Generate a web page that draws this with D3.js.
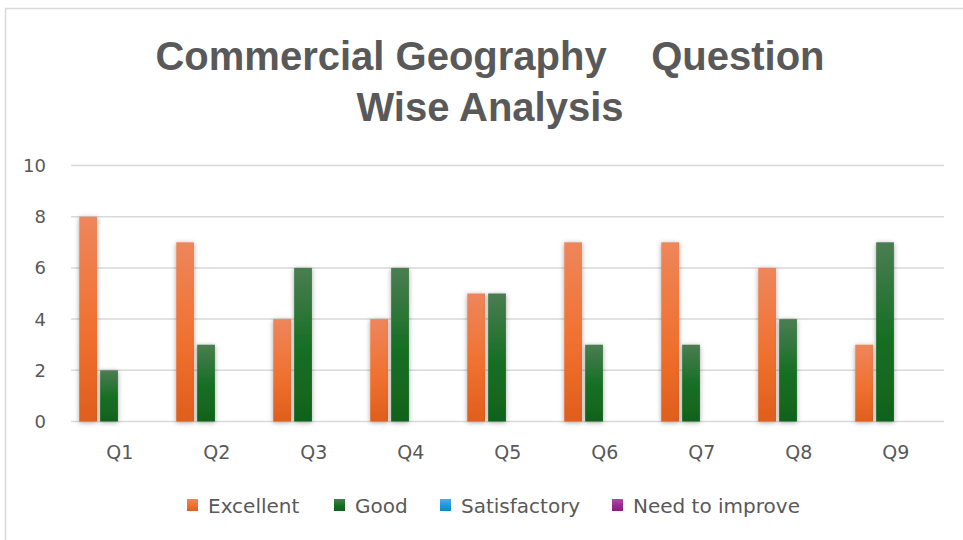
<!DOCTYPE html>
<html>
<head>
<meta charset="utf-8">
<script src="https://cdn.jsdelivr.net/npm/d3@7"></script>
<style>
  body { margin: 0; background: #fff; }
  text { font-family: "DejaVu Sans", sans-serif; fill: #595959; }
</style>
</head>
<body>
<script>
var categories = ["Q1", "Q2", "Q3", "Q4", "Q5", "Q6", "Q7", "Q8", "Q9"];
var seriesNames = ["Excellent", "Good", "Satisfactory", "Need to improve"];
var excellent = [8, 7, 4, 4, 5, 7, 7, 6, 3];
var good = [2, 3, 6, 6, 5, 3, 3, 4, 7];
var satisfactory = [0, 0, 0, 0, 0, 0, 0, 0, 0];
var needToImprove = [0, 0, 0, 0, 0, 0, 0, 0, 0];
var yTicks = [0, 2, 4, 6, 8, 10];

var values = [excellent, good, satisfactory, needToImprove];
// gradient stops per series: top, middle, bottom
var colors = [
  ["#ee865c", "#f07130", "#e05e1c"],
  ["#4b7d52", "#146e22", "#11621d"],
  ["#4aaee6", "#1a9ad8", "#0a8bc8"],
  ["#b04aa8", "#9a2a90", "#8a1e82"]
];

var W = 963, H = 540;
var svg = d3.select("body").append("svg").attr("width", W).attr("height", H);
var defs = svg.append("defs");

colors.forEach(function (c, i) {
  var g = defs.append("linearGradient").attr("id", "grad" + i)
    .attr("x1", 0).attr("y1", 0).attr("x2", 0).attr("y2", 1);
  g.append("stop").attr("offset", "0%").attr("stop-color", c[0]);
  g.append("stop").attr("offset", "55%").attr("stop-color", c[1]);
  g.append("stop").attr("offset", "100%").attr("stop-color", c[2]);
});

var shadow = defs.append("filter").attr("id", "shadow")
  .attr("x", "-50%").attr("y", "-10%").attr("width", "200%").attr("height", "120%");
shadow.append("feDropShadow").attr("dx", 0).attr("dy", 1).attr("stdDeviation", 2.5)
  .attr("flood-color", "#000").attr("flood-opacity", 0.35);

// chart border
svg.append("rect").attr("x", 5.5).attr("y", 8.5).attr("width", 1000).attr("height", 600)
  .attr("fill", "none").attr("stroke", "#d9d9d9").attr("stroke-width", 1.5);

// title
var title = svg.append("text").attr("text-anchor", "middle")
  .style("font-family", "'Liberation Sans', Arial, sans-serif")
  .style("font-size", "40px").style("font-weight", "bold");
title.append("tspan").attr("x", 490).attr("y", 70)
  .text("Commercial Geography\u00a0\u00a0\u00a0\u00a0Question");
title.append("tspan").attr("x", 490).attr("y", 121).text("Wise Analysis");

var x0 = d3.scaleBand().domain(categories).range([71, 944])
  .paddingInner(0.17).paddingOuter(0.085);
var x1 = d3.scaleBand().domain(seriesNames).range([0, x0.bandwidth()]).paddingInner(0.15);
var y = d3.scaleLinear().domain([0, 10]).range([421.5, 165.5]);

// gridlines
svg.append("g").selectAll("line").data(yTicks).join("line")
  .attr("x1", 71).attr("x2", 944)
  .attr("y1", function (d) { return y(d); }).attr("y2", function (d) { return y(d); })
  .attr("stroke", "#d9d9d9").attr("stroke-width", 1.5);

// y labels
svg.append("g").selectAll("text").data(yTicks).join("text")
  .attr("x", 46).attr("y", function (d) { return y(d) + 6.5; })
  .attr("text-anchor", "end").style("font-size", "18px")
  .text(function (d) { return d; });

// x labels
svg.append("g").selectAll("text").data(categories).join("text")
  .attr("x", function (d) { return x0(d) + x0.step() / 2 - 8; })
  .attr("y", 459).attr("text-anchor", "middle").style("font-size", "19px")
  .text(function (d) { return d; });

// bars
var groups = svg.append("g").selectAll("g").data(categories).join("g")
  .attr("transform", function (d) { return "translate(" + x0(d) + ",0)"; });

groups.selectAll("rect")
  .data(function (d, ci) {
    return seriesNames.map(function (s, si) { return { s: s, si: si, v: values[si][ci] }; })
      .filter(function (e) { return e.v > 0; });
  })
  .join("rect")
  .attr("x", function (d) { return x1(d.s); })
  .attr("width", x1.bandwidth())
  .attr("y", function (d) { return y(d.v); })
  .attr("height", function (d) { return y(0) - y(d.v); })
  .attr("fill", function (d) { return "url(#grad" + d.si + ")"; })
  .attr("filter", "url(#shadow)");

// legend
var legendX = [187, 334, 440, 612];
var legend = svg.append("g").selectAll("g").data(seriesNames).join("g")
  .attr("transform", function (d, i) { return "translate(" + legendX[i] + ",499)"; });
legend.append("rect").attr("width", 11).attr("height", 12)
  .attr("fill", function (d, i) { return "url(#grad" + i + ")"; });
legend.append("text").attr("x", 21).attr("y", 13.5).style("font-size", "20px")
  .text(function (d) { return d; });
</script>
</body>
</html>
